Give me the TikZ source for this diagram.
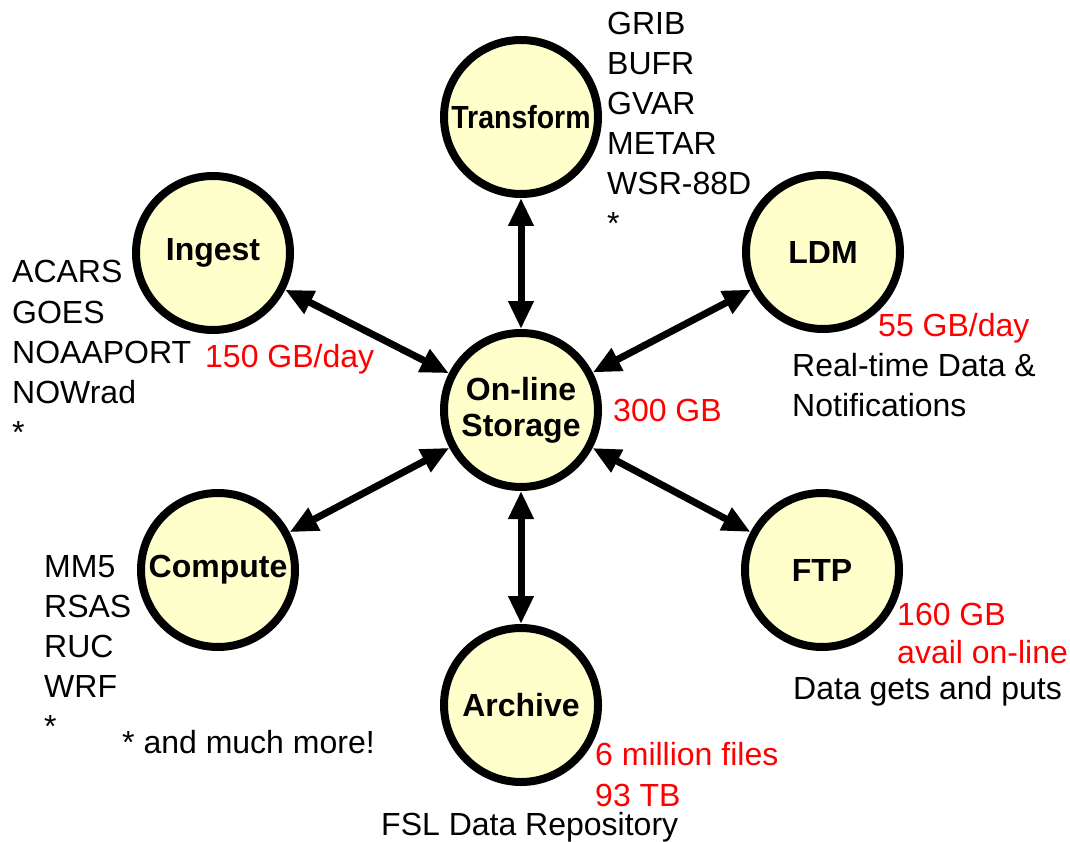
\documentclass[tikz,border=0pt]{standalone}
\usepackage{graphicx}
\usepackage{fontspec}
\setmainfont{Liberation Sans}
\usetikzlibrary{arrows.meta}
\definecolor{nodefill}{RGB}{255,255,204}
\definecolor{lblred}{RGB}{255,0,0}
\begin{document}
\begin{tikzpicture}[x=1pt,y=-1pt,
  hub/.style={circle, draw=black, line width=8pt, fill=nodefill, minimum size=154pt,
    inner sep=0pt, font=\fontsize{32}{36}\selectfont\bfseries, align=center},
  link/.style={line width=7pt, {Triangle[length=28pt,width=24pt]}-{Triangle[length=28pt,width=24pt]}},
  txt/.style={anchor=base west, inner sep=0pt, font=\fontsize{32}{40}\selectfont},
  redtxt/.style={txt, text=lblred}
]
\useasboundingbox (0,0) rectangle (1070,842);

% hubs
\node[hub] (store) at (521,410) {On-line\\Storage};
\node[hub] (transform) at (521,117) {\scalebox{0.89}[1]{Transform}};
\node[hub] (ingest) at (213,253) {Ingest};
\node[hub] (ldm) at (823,252) {LDM};
\node[hub] (compute) at (218,570) {Compute};
\node[hub] (ftp) at (822,570) {FTP};
\node[hub] (archive) at (521,705) {Archive};

% links
\draw[link] (transform) -- (store);
\draw[link] (archive) -- (store);
\draw[link] (ingest) -- (store);
\draw[link] (ldm) -- (store);
\draw[link] (compute) -- (store);
\draw[link] (ftp) -- (store);

% lists
\foreach \t [count=\i] in {GRIB,BUFR,GVAR,METAR,WSR-88D,*}
  \node[txt] (tr\i) at (607,{35+40*(\i-1)}) {\t};
\foreach \t [count=\i] in {ACARS,GOES,NOAAPORT,NOWrad,*}
  \node[txt] (in\i) at (12,{283+40*(\i-1)}) {\t};
\foreach \t [count=\i] in {MM5,RSAS,RUC,WRF,*}
  \node[txt] (co\i) at (44,{577+40*(\i-1)}) {\t};
\node[txt] (more) at (122,753) {* and much more!};

% LDM
\node[redtxt] (ldmrate) at (878,336) {55 GB/day};
\node[txt] (ldm1) at (792,376) {Real-time Data \&};
\node[txt] (ldm2) at (792,416) {Notifications};

% ingest rate
\node[redtxt] (ingrate) at (205,367) {150 GB/day};
% storage
\node[redtxt] (storesize) at (613,421) {300 GB};

% FTP
\node[redtxt] (ftp1) at (897,625) {160 GB};
\node[redtxt] (ftp2) at (897,663) {avail on-line};
\node[txt] (ftp3) at (793,699) {Data gets and puts};

% Archive
\node[redtxt] (ar1) at (595,765) {6 million files};
\node[redtxt] (ar2) at (595,806) {93 TB};
\node[txt] (ar3) at (381,835) {FSL Data Repository};
\end{tikzpicture}
\end{document}
